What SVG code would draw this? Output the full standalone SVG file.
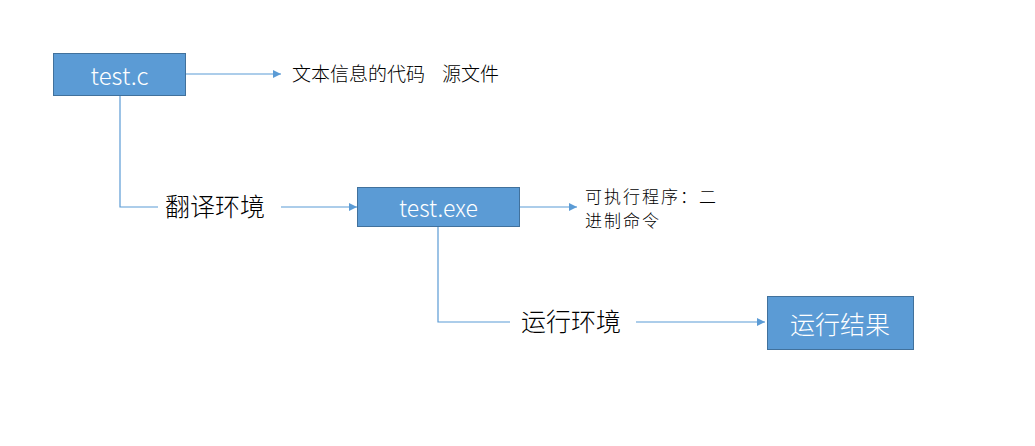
<svg xmlns="http://www.w3.org/2000/svg" width="1035" height="446" viewBox="0 0 1035 446">
<style>
.box{fill:#5B9BD5;stroke:#41719C;stroke-width:1}
.wt{fill:#fff;font-family:"Noto Sans CJK SC","Liberation Sans",sans-serif;text-anchor:middle;dominant-baseline:central;font-weight:300}
.bt{fill:#000;font-family:"Noto Sans CJK SC","Liberation Sans",sans-serif;font-weight:300}
.ln{fill:none;stroke:#5B9BD5;stroke-width:1.2}
</style>
<defs>
<marker id="ah" viewBox="0 0 10 10" refX="10" refY="5" markerWidth="8" markerHeight="8" markerUnits="userSpaceOnUse" orient="auto">
<path d="M0,0 L10,5 L0,10 z" fill="#5B9BD5"/>
</marker>
</defs>
<rect width="1035" height="446" fill="#fff"/>
<g id="connectors">
<path class="ln" d="M185,74 H281" marker-end="url(#ah)"/>
<path class="ln" d="M120,95 V207 H158"/>
<path class="ln" d="M281,207 H357" marker-end="url(#ah)"/>
<path class="ln" d="M519,207 H577" marker-end="url(#ah)"/>
<path class="ln" d="M438,226 V322 H510"/>
<path class="ln" d="M636,322 H765" marker-end="url(#ah)"/>
</g>
<g id="node-testc">
<rect class="box" x="53.5" y="53.5" width="132" height="42"/>
<text class="wt" x="119.5" y="74" font-size="24">test.c</text>
</g>
<g id="label-source">
<text class="bt" x="292" y="81" font-size="19">文本信息的代码<tspan x="442">源文件</tspan></text>
</g>
<g id="label-translate">
<text class="bt" x="165" y="216" font-size="25">翻译环境</text>
</g>
<g id="node-testexe">
<rect class="box" x="357.5" y="187.5" width="162" height="39"/>
<text class="wt" x="438.5" y="207" font-size="23">test.exe</text>
</g>
<g id="label-exe">
<text class="bt" x="585" y="203" font-size="17" letter-spacing="2">可执行程序：二</text>
<text class="bt" x="585" y="227" font-size="17" letter-spacing="2">进制命令</text>
</g>
<g id="label-run">
<text class="bt" x="521" y="331" font-size="25">运行环境</text>
</g>
<g id="node-result">
<rect class="box" x="767.5" y="296.5" width="146" height="53"/>
<text class="wt" x="840" y="323" font-size="25">运行结果</text>
</g>
</svg>
